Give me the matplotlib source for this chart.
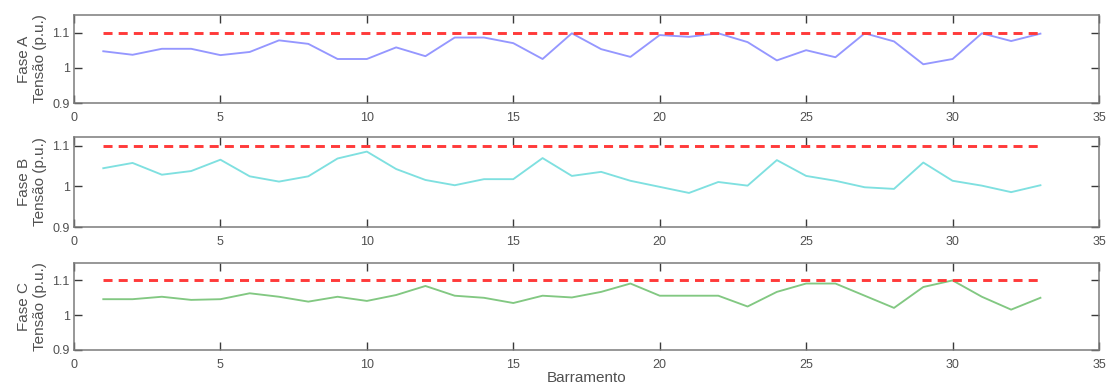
import numpy as np
import matplotlib
matplotlib.use("Agg")
import matplotlib.pyplot as plt

plt.rcParams['font.family'] = ['Liberation Sans', 'DejaVu Sans']

barramento = list(range(1, 34))

fase_a = [1.047, 1.037, 1.054, 1.054, 1.036, 1.045, 1.078, 1.068, 1.025, 1.025,
          1.058, 1.033, 1.086, 1.086, 1.070, 1.025, 1.098, 1.053, 1.031, 1.093,
          1.088, 1.098, 1.073, 1.021, 1.050, 1.030, 1.098, 1.075, 1.010, 1.025,
          1.098, 1.076, 1.097]

fase_b = [1.045, 1.058, 1.029, 1.038, 1.066, 1.025, 1.012, 1.025, 1.069, 1.086,
          1.043, 1.016, 1.003, 1.018, 1.018, 1.070, 1.026, 1.036, 1.014, 0.999,
          0.984, 1.011, 1.002, 1.065, 1.026, 1.014, 0.998, 0.994, 1.059, 1.014,
          1.002, 0.986, 1.003]

fase_c = [1.046, 1.046, 1.053, 1.044, 1.046, 1.063, 1.053, 1.039, 1.053, 1.041,
          1.058, 1.084, 1.056, 1.050, 1.035, 1.056, 1.051, 1.067, 1.091, 1.056,
          1.056, 1.056, 1.025, 1.067, 1.091, 1.091, 1.056, 1.021, 1.081, 1.100,
          1.053, 1.016, 1.050]

limite = 1.1
fases = ["A", "B", "C"]
series = [fase_a, fase_b, fase_c]
cores = ["#9597ff", "#7fe0e0", "#82c882"]
ylims = [(0.9, 1.15), (0.9, 1.122), (0.9, 1.15)]

W, H = 1107, 390
fig = plt.figure(figsize=(W / 100, H / 100), dpi=100)
x0, x1 = 74, 1099
# (top, bottom) of each panel in pixels
paineis = [(15, 103), (137, 227), (263, 350)]

txt = "#505050"
for (top, bot), fase, vals, cor, yl in zip(paineis, fases, series, cores, ylims):
    ax = fig.add_axes([x0 / W, 1 - bot / H, (x1 - x0) / W, (bot - top) / H])
    ax.plot(barramento, vals, color=cor, lw=1.35)
    ax.plot(barramento, [limite] * len(barramento), color="#ff3a3a",
            lw=2.1, ls=(0, (3.1, 2.1)))
    ax.set_xlim(0, 35)
    ax.set_ylim(*yl)
    ax.set_xticks(range(0, 36, 5))
    ax.set_yticks([0.9, 1.0, 1.1])
    ax.set_yticklabels(["0.9", "1", "1.1"])
    ax.tick_params(direction="in", top=True, right=True, length=5.5,
                   width=1.0, colors="#3a3a3a", labelcolor=txt, labelsize=9)
    ax.tick_params(axis="x", pad=6.5)
    ax.tick_params(axis="y", pad=3)
    for s in ax.spines.values():
        s.set_color("#7a7a7a")
        s.set_linewidth(1.1)
    ax.set_ylabel(f"Fase {fase}\nTensão (p.u.)", color=txt, fontsize=11,
                  labelpad=4, linespacing=1.15)
    if fase == "C":
        ax.set_xlabel("Barramento", color=txt, fontsize=11, labelpad=0)

fig.savefig("out.png", dpi=100)
